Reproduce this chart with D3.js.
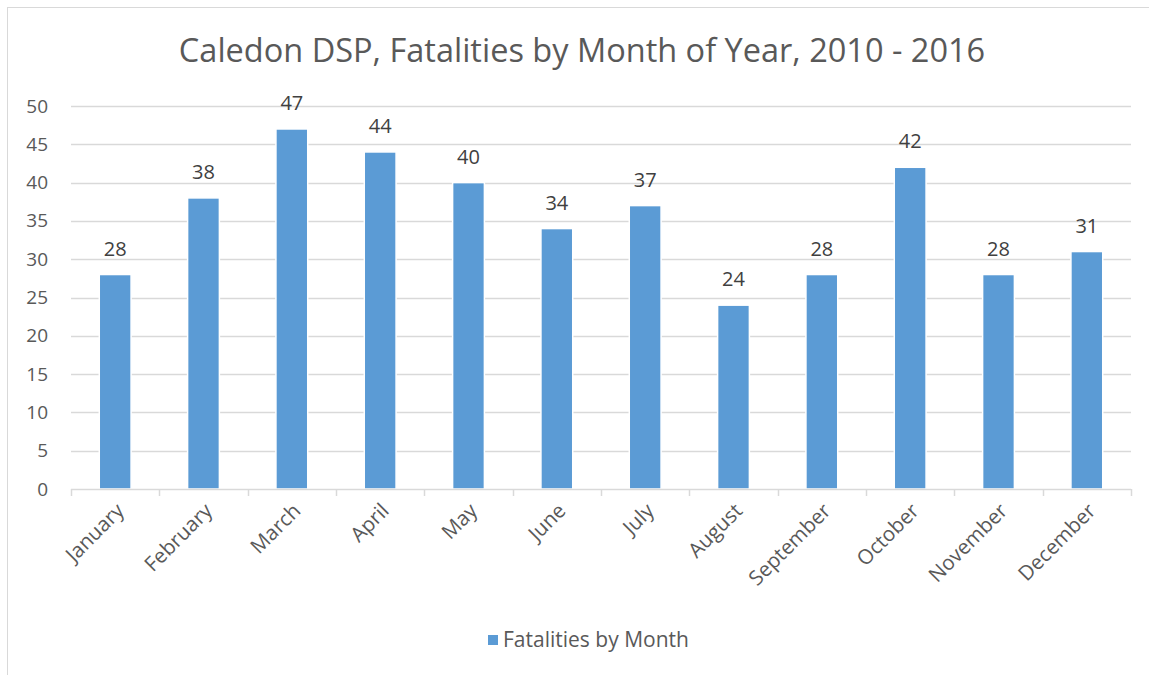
<!DOCTYPE html>
<html>
<head>
<meta charset="utf-8">
<script src="https://cdn.jsdelivr.net/npm/d3@7"></script>
<style>
  body { margin: 0; background: #fff; }
  text { font-family: "Open Sans", sans-serif; }
</style>
</head>
<body>
<script>
var months = ["January", "February", "March", "April", "May", "June",
              "July", "August", "September", "October", "November", "December"];
var fatalities = [28, 38, 47, 44, 40, 34, 37, 24, 28, 42, 28, 31];
var yTicks = [0, 5, 10, 15, 20, 25, 30, 35, 40, 45, 50];

var W = 1149, H = 675;
var margin = {top: 106, right: 18, bottom: 186, left: 71},
    width = W - margin.left - margin.right,
    height = H - margin.top - margin.bottom;

var svg = d3.select("body").append("svg")
    .attr("width", W)
    .attr("height", H);

// chart border
svg.append("rect")
    .attr("x", 7.5).attr("y", 7.5)
    .attr("width", W).attr("height", H - 5)
    .attr("fill", "none")
    .attr("stroke", "#d9d9d9");

svg.append("text")
    .attr("x", 582).attr("y", 62)
    .attr("text-anchor", "middle")
    .attr("font-size", 32.5)
    .attr("fill", "#595959")
    .text("Caledon DSP, Fatalities by Month of Year, 2010 - 2016");

var g = svg.append("g")
    .attr("transform", "translate(" + margin.left + "," + margin.top + ")");

var x = d3.scaleBand().domain(months).range([0, width]).paddingInner(0.64).paddingOuter(0.32);
var y = d3.scaleLinear().domain([0, 50]).range([height, 0]);

// gridlines
g.selectAll(".grid")
    .data(yTicks.slice(1))
  .enter().append("line")
    .attr("class", "grid")
    .attr("x1", 0).attr("x2", width)
    .attr("y1", function(d) { return Math.round(y(d)) + 0.5; })
    .attr("y2", function(d) { return Math.round(y(d)) + 0.5; })
    .attr("stroke", "#d9d9d9")
    .attr("stroke-width", 1.5);

// y axis labels
var yAxis = d3.axisLeft(y).tickValues(yTicks).tickSize(0).tickPadding(23);
g.append("g").call(yAxis)
    .call(function(s) { s.select(".domain").remove(); })
    .selectAll("text")
    .attr("font-size", 19)
    .attr("fill", "#595959")
    .style("font-family", "'Open Sans', sans-serif");

// bars
g.selectAll(".bar")
    .data(fatalities)
  .enter().append("rect")
    .attr("class", "bar")
    .attr("x", function(d, i) { return x(months[i]); })
    .attr("width", x.bandwidth())
    .attr("y", function(d) { return y(d); })
    .attr("height", function(d) { return height - y(d); })
    .attr("fill", "#5b9bd5")
    .attr("stroke", "#ffffff")
    .attr("stroke-width", 1.5);

// data labels
g.selectAll(".lbl")
    .data(fatalities)
  .enter().append("text")
    .attr("class", "lbl")
    .attr("x", function(d, i) { return x(months[i]) + x.bandwidth() / 2; })
    .attr("y", function(d) { return y(d) - 19; })
    .attr("text-anchor", "middle")
    .attr("font-size", 20)
    .attr("fill", "#404040")
    .text(function(d) { return d; });

// x axis line and ticks
var step = width / months.length;
var xa = g.append("g").attr("transform", "translate(0," + height + ")");
xa.append("line")
    .attr("x1", 0).attr("x2", width)
    .attr("y1", 0.5).attr("y2", 0.5)
    .attr("stroke", "#d9d9d9").attr("stroke-width", 1.5);
xa.selectAll(".tk")
    .data(d3.range(months.length + 1))
  .enter().append("line")
    .attr("x1", function(i) { return Math.round(i * step) + 0.5; })
    .attr("x2", function(i) { return Math.round(i * step) + 0.5; })
    .attr("y1", 0).attr("y2", 7)
    .attr("stroke", "#d9d9d9").attr("stroke-width", 1.5);

xa.selectAll(".xl")
    .data(months)
  .enter().append("text")
    .attr("class", "xl")
    .attr("transform", function(d) {
      return "translate(" + (x(d) + x.bandwidth() / 2 + 5) + ",18) rotate(-45)";
    })
    .attr("text-anchor", "end")
    .attr("dy", "0.35em")
    .attr("font-size", 20.5)
    .attr("fill", "#595959")
    .text(function(d) { return d; });

// legend
var lg = svg.append("g").attr("transform", "translate(488,640)");
lg.append("rect")
    .attr("x", 0).attr("y", -5)
    .attr("width", 10).attr("height", 10)
    .attr("fill", "#5b9bd5");
lg.append("text")
    .attr("x", 15).attr("y", 0)
    .attr("dy", "0.35em")
    .attr("font-size", 21)
    .attr("fill", "#595959")
    .text("Fatalities by Month");
</script>
</body>
</html>
